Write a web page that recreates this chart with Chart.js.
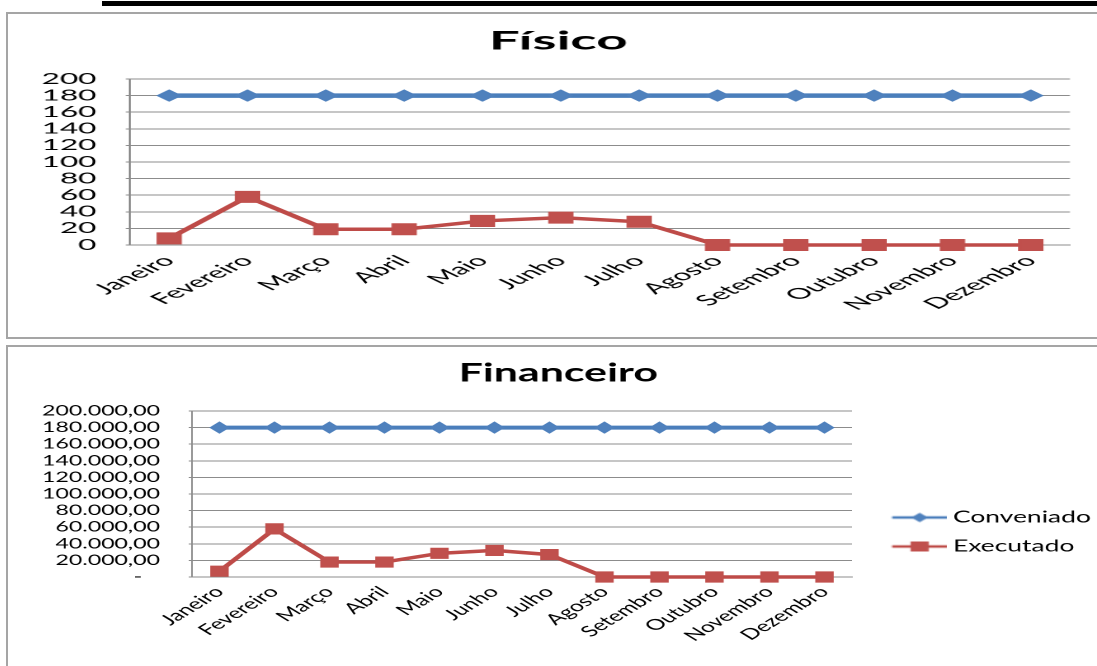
<!DOCTYPE html>
<html lang="pt-BR">
<head>
<meta charset="utf-8">
<title>Físico / Financeiro</title>
<script src="https://cdn.jsdelivr.net/npm/chart.js@4.4.1/dist/chart.umd.min.js"></script>
<style>
  html, body { margin: 0; padding: 0; background: #fff; }
  body { position: relative; width: 1097px; height: 666px; overflow: hidden; }
  .barra { position: absolute; left: 102px; top: 1px; width: 995px; height: 5px; background: #000; }
  .quadro { position: absolute; box-sizing: border-box; border: 2px solid #a5a5a5; }
  #quadroFisico { left: 6px; top: 12px; width: 1100px; height: 327px; }
  #quadroFinanceiro { left: 6px; top: 345px; width: 1100px; height: 400px; }
  /* os gráficos são desenhados estreitos e esticados na horizontal */
  .area { position: absolute; left: 8px; transform-origin: 0 0; }
  #areaFisico { top: 14px; width: 524px; height: 324px; transform: scaleX(2.1); }
  #areaFinanceiro { top: 347px; width: 667px; height: 370px; transform: scaleX(1.65); }
</style>
</head>
<body>
<div class="barra"></div>
<div class="quadro" id="quadroFisico"></div>
<div class="quadro" id="quadroFinanceiro"></div>
<div class="area" id="areaFisico"><canvas id="fisico"></canvas></div>
<div class="area" id="areaFinanceiro"><canvas id="financeiro"></canvas></div>
<script>
// dados mensais
const meses = ['Janeiro', 'Fevereiro', 'Março', 'Abril', 'Maio', 'Junho',
    'Julho', 'Agosto', 'Setembro', 'Outubro', 'Novembro', 'Dezembro'];

const fisicoConveniado = [180, 180, 180, 180, 180, 180, 180, 180, 180, 180, 180, 180];
const fisicoExecutado = [8, 58, 19, 19, 29, 33, 28, 0, 0, 0, 0, 0];

const financeiroConveniado = [180000, 180000, 180000, 180000, 180000, 180000,
    180000, 180000, 180000, 180000, 180000, 180000];
const financeiroExecutado = [7000, 58000, 18000, 18000, 28500, 32000, 27000, 0, 0, 0, 0, 0];

// rótulos do eixo Y (de baixo para cima)
const fisicoTicks = ['0', '20', '40', '60', '80', '100', '120', '140', '160', '180', '200'];
const financeiroTicks = ['-   ', '20.000,00', '40.000,00', '60.000,00', '80.000,00', '100.000,00',
    '120.000,00', '140.000,00', '160.000,00', '180.000,00', '200.000,00'];

Chart.defaults.font.family = 'Lato';
Chart.defaults.color = '#000';

const AZUL_LINHA = '#4A7EBB';
const AZUL = '#4F81BD';
const VERMELHO_LINHA = '#BE4B48';
const VERMELHO = '#C0504D';
const COR_GRADE = '#8C8C8C';

function serie(rotulo, dados, corLinha, corPonto, forma, raio, espessura) {
    return {
        label: rotulo,
        data: dados,
        borderColor: corLinha,
        backgroundColor: corPonto,
        borderWidth: espessura,
        tension: 0,
        clip: false,
        pointStyle: forma,
        pointRadius: raio,
        pointHoverRadius: raio,
        pointBackgroundColor: corPonto,
        pointBorderColor: corPonto,
        pointBorderWidth: 1
    };
}

// escalas com tamanhos fixos para a área de plotagem
function escalas(cfg) {
    return {
        x: {
            offset: true,
            grid: { display: false, drawTicks: false },
            border: { color: COR_GRADE, width: 1 },
            ticks: {
                autoSkip: false,
                maxRotation: 45,
                minRotation: 45,
                padding: cfg.padX,
                font: { size: cfg.fonteX }
            },
            afterFit: (eixo) => {
                eixo.height = cfg.alturaX;
                eixo.paddingRight = cfg.margemDireita;
            }
        },
        y: {
            min: 0,
            max: cfg.max,
            grid: { color: COR_GRADE, tickLength: 2 },
            border: { color: COR_GRADE, width: 1 },
            ticks: {
                autoSkip: false,
                stepSize: cfg.max / 10,
                padding: cfg.padY,
                font: { size: cfg.fonteY },
                callback: (valor, i) => cfg.rotulos[i]
            },
            afterFit: (eixo) => {
                eixo.width = cfg.larguraY;
            }
        }
    };
}

function titulo(texto, topo, base) {
    return {
        display: true,
        text: texto,
        color: '#000',
        font: { size: 26, weight: 'bold' },
        lineHeight: 1.2,
        padding: { top: topo, bottom: base }
    };
}

// amostra da legenda: linha com o marcador no meio
function amostraLegenda(corLinha, corPonto, forma) {
    const c = document.createElement('canvas');
    c.width = 49;
    c.height = 14;
    const ctx = c.getContext('2d');
    ctx.strokeStyle = corLinha;
    ctx.lineWidth = 2.5;
    ctx.beginPath();
    ctx.moveTo(15.7, 7);
    ctx.lineTo(49, 7);
    ctx.stroke();
    ctx.fillStyle = corPonto;
    const cx = 32.4;
    if (forma === 'rectRot') {
        ctx.beginPath();
        ctx.moveTo(cx - 5, 7);
        ctx.lineTo(cx, 2.3);
        ctx.lineTo(cx + 5, 7);
        ctx.lineTo(cx, 11.7);
        ctx.closePath();
        ctx.fill();
    } else {
        ctx.fillRect(cx - 5.5, 2, 11, 10);
    }
    return c;
}

const amostras = [
    amostraLegenda(AZUL_LINHA, AZUL, 'rectRot'),
    amostraLegenda(VERMELHO_LINHA, VERMELHO, 'rect')
];

const opcoesBase = {
    responsive: true,
    maintainAspectRatio: false,
    devicePixelRatio: 2,
    animation: false,
    events: []
};

new Chart(document.getElementById('fisico'), {
    type: 'line',
    data: {
        labels: meses,
        datasets: [
            serie('Conveniado', fisicoConveniado, AZUL_LINHA, AZUL, 'rectRot', 5.5, 4.5),
            serie('Executado', fisicoExecutado, VERMELHO_LINHA, VERMELHO, 'rect', 7.8, 3.5)
        ]
    },
    options: {
        ...opcoesBase,
        layout: { padding: 0 },
        plugins: {
            legend: { display: false },
            tooltip: { enabled: false },
            title: titulo('Físico', 11.4, 22.4)
        },
        scales: escalas({
            max: 200, rotulos: fisicoTicks,
            larguraY: 58.1, padY: 14, fonteY: 15,
            alturaX: 93, padX: 7, fonteX: 15,
            margemDireita: 18.3
        })
    }
});

new Chart(document.getElementById('financeiro'), {
    type: 'line',
    data: {
        labels: meses,
        datasets: [
            serie('Conveniado', financeiroConveniado, AZUL_LINHA, AZUL, 'rectRot', 5.5, 4),
            serie('Executado', financeiroExecutado, VERMELHO_LINHA, VERMELHO, 'rect', 7.2, 3.5)
        ]
    },
    options: {
        ...opcoesBase,
        layout: { padding: 0 },
        plugins: {
            legend: {
                position: 'right',
                labels: {
                    usePointStyle: true,
                    pointStyleWidth: 40.2,
                    padding: 13,
                    color: '#000',
                    font: { size: 16 },
                    generateLabels: (chart) => Chart.defaults.plugins.legend.labels
                        .generateLabels(chart)
                        .map((item, i) => ({ ...item, pointStyle: amostras[i] }))
                }
            },
            tooltip: { enabled: false },
            title: titulo('Financeiro', 10.4, 22.4)
        },
        scales: escalas({
            max: 200000, rotulos: financeiroTicks,
            larguraY: 111.5, padY: 17.4, fonteY: 14,
            alturaX: 140, padX: 6, fonteX: 15,
            margemDireita: 155.5
        })
    }
});
</script>
</body>
</html>
